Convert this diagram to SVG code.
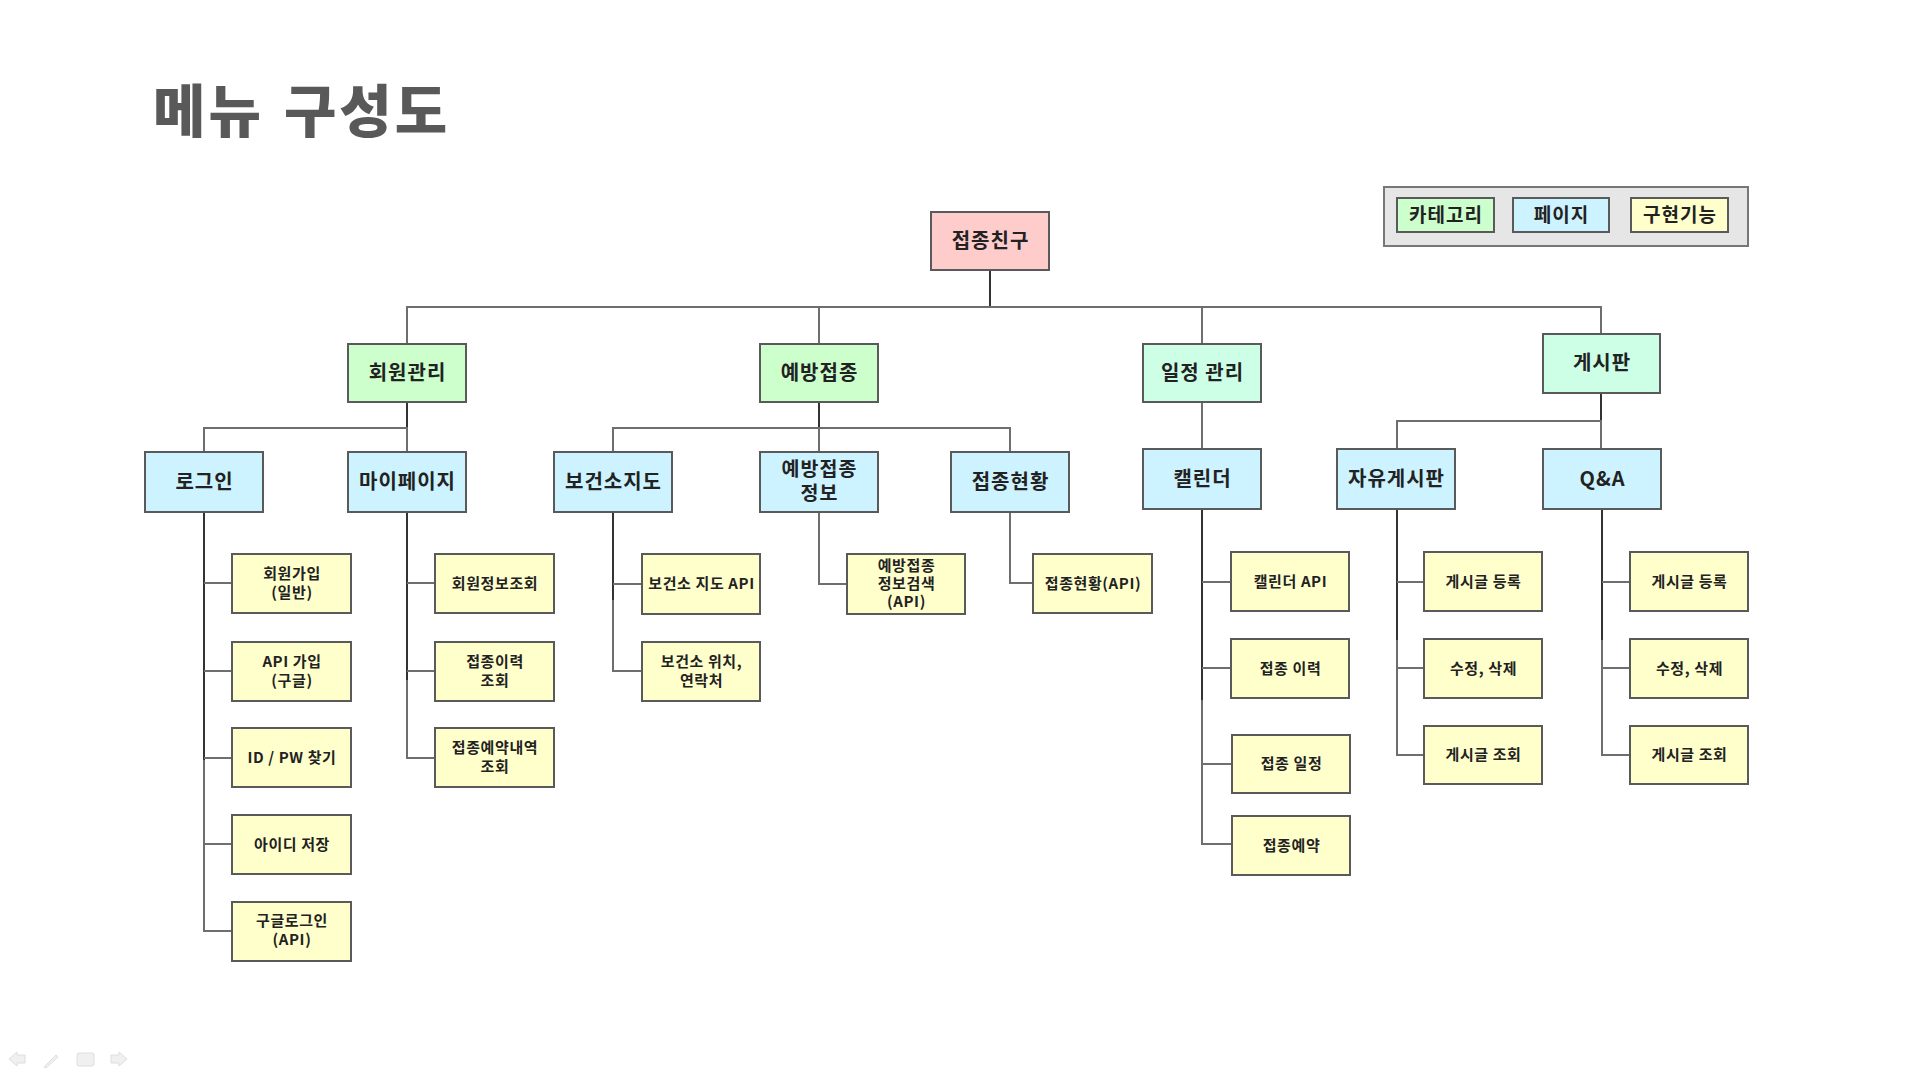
<svg xmlns="http://www.w3.org/2000/svg" width="1920" height="1080" viewBox="0 0 1920 1080">
<style>
text{font-family:"Noto Sans CJK KR","Noto Sans",sans-serif;fill:#222;text-anchor:middle;dominant-baseline:central;transform:translateY(-1.5px)}
.title{font-size:57px;font-weight:900;fill:#595959;text-anchor:start;dominant-baseline:auto;letter-spacing:3px;word-spacing:4px;transform:none}
.box{stroke:#5a5a5a;stroke-width:2}
.root{fill:#FFCCCC}
.cat{fill:#CCFFCC}
.cat2{fill:#CCFFE6}
.page{fill:#CCF3FF}
.leaf{fill:#FFFFCC}
.big{font-size:20px;font-weight:700;letter-spacing:1px}
.two{font-size:19.5px;font-weight:700;letter-spacing:1px}
.sm{font-size:15px;font-weight:700;letter-spacing:0.6px}
.lg{font-size:19px;font-weight:700;letter-spacing:1px}
.c{fill:none;stroke:#6e6e6e;stroke-width:2}
.cd{fill:none;stroke:#333;stroke-width:2}
.ui{fill:#f0f0f0;stroke:#dedede;stroke-width:1}
</style>
<rect width="1920" height="1080" fill="#fff"/>
<text class="title" x="153" y="132">메뉴 구성도</text>

<g id="legend">
<rect x="1384" y="187" width="364" height="59" fill="#E6E6E6" stroke="#777" stroke-width="2"/>
<rect class="box cat" x="1397" y="198" width="97" height="34"/><text class="lg" x="1446" y="215">카테고리</text>
<rect class="box page" x="1513" y="198" width="96" height="34"/><text class="lg" x="1561.5" y="215">페이지</text>
<rect class="box leaf" x="1631" y="198" width="97" height="34"/><text class="lg" x="1680" y="215">구현기능</text>
</g>

<g id="connectors">
<path class="cd" d="M990 270V307"/>
<path class="c" d="M407 344V307H1601V334M819 307V344M1202 307V344"/>
<path class="cd" d="M407 402V428"/>
<path class="c" d="M204 452V428H407V452"/>
<path class="cd" d="M819 402V428"/>
<path class="c" d="M613 452V428H1010V452M819 428V452"/>
<path class="c" d="M1202 402V449"/>
<path class="cd" d="M1601 393V421"/>
<path class="c" d="M1397 449V421H1601V449"/>
<path class="cd" d="M204 512V760"/>
<path class="c" d="M204 760V931H232M204 583H232M204 671H232M204 758H232M204 844H232"/>
<path class="cd" d="M407 512V680"/>
<path class="c" d="M407 680V758H435M407 583H435M407 671H435"/>
<path class="cd" d="M613 512V600"/>
<path class="c" d="M613 600V671H642M613 584H642"/>
<path class="c" d="M819 512V584H847"/>
<path class="c" d="M1010 512V583H1033"/>
<path class="cd" d="M1202 509V700"/>
<path class="c" d="M1202 700V844H1232M1202 582H1231M1202 668H1231M1202 764H1232"/>
<path class="cd" d="M1397 509V640"/>
<path class="c" d="M1397 640V755H1424M1397 582H1424M1397 668H1424"/>
<path class="cd" d="M1602 509V640"/>
<path class="c" d="M1602 640V755H1630M1602 582H1630M1602 668H1630"/>
</g>

<g id="n-root"><rect class="box root" x="931" y="212" width="118" height="58"/><text class="big" x="990.5" y="241">접종친구</text></g>

<g id="n-member"><rect class="box cat" x="348" y="344" width="118" height="58"/><text class="big" x="407.5" y="373">회원관리</text></g>
<g id="n-vacc"><rect class="box cat" x="760" y="344" width="118" height="58"/><text class="big" x="819.5" y="373">예방접종</text></g>
<g id="n-sched"><rect class="box cat2" x="1143" y="344" width="118" height="58"/><text class="big" x="1202.5" y="373">일정 관리</text></g>
<g id="n-board"><rect class="box cat2" x="1543" y="334" width="117" height="59"/><text class="big" x="1602" y="363">게시판</text></g>

<g id="n-login"><rect class="box page" x="145" y="452" width="118" height="60"/><text class="big" x="204.5" y="482">로그인</text></g>
<g id="n-mypage"><rect class="box page" x="348" y="452" width="118" height="60"/><text class="big" x="407.5" y="482">마이페이지</text></g>
<g id="n-map"><rect class="box page" x="554" y="452" width="118" height="60"/><text class="big" x="613.5" y="482">보건소지도</text></g>
<g id="n-vinfo"><rect class="box page" x="760" y="452" width="118" height="60"/><text class="two" x="819.5" y="469">예방접종</text><text class="two" x="819.5" y="493">정보</text></g>
<g id="n-status"><rect class="box page" x="951" y="452" width="118" height="60"/><text class="big" x="1010.5" y="482">접종현황</text></g>
<g id="n-cal"><rect class="box page" x="1143" y="449" width="118" height="60"/><text class="big" x="1202.5" y="479">캘린더</text></g>
<g id="n-free"><rect class="box page" x="1337" y="449" width="118" height="60"/><text class="big" x="1396.5" y="479">자유게시판</text></g>
<g id="n-qna"><rect class="box page" x="1543" y="449" width="118" height="60"/><text class="big" x="1602.5" y="479">Q&amp;A</text></g>

<g id="l-join"><rect class="box leaf" x="232" y="554" width="119" height="59"/><text class="sm" x="292" y="574">회원가입</text><text class="sm" x="292" y="593">(일반)</text></g>
<g id="l-apijoin"><rect class="box leaf" x="232" y="642" width="119" height="59"/><text class="sm" x="292" y="662">API 가입</text><text class="sm" x="292" y="681">(구글)</text></g>
<g id="l-find"><rect class="box leaf" x="232" y="728" width="119" height="59"/><text class="sm" x="292" y="757.5">ID / PW 찾기</text></g>
<g id="l-save"><rect class="box leaf" x="232" y="815" width="119" height="59"/><text class="sm" x="292" y="844.5">아이디 저장</text></g>
<g id="l-google"><rect class="box leaf" x="232" y="902" width="119" height="59"/><text class="sm" x="292" y="921">구글로그인</text><text class="sm" x="292" y="940">(API)</text></g>

<g id="l-minfo"><rect class="box leaf" x="435" y="554" width="119" height="59"/><text class="sm" x="495" y="583.5">회원정보조회</text></g>
<g id="l-hist"><rect class="box leaf" x="435" y="642" width="119" height="59"/><text class="sm" x="495" y="662">접종이력</text><text class="sm" x="495" y="681">조회</text></g>
<g id="l-resv"><rect class="box leaf" x="435" y="728" width="119" height="59"/><text class="sm" x="495" y="748">접종예약내역</text><text class="sm" x="495" y="767">조회</text></g>

<g id="l-mapapi"><rect class="box leaf" x="642" y="554" width="118" height="60"/><text class="sm" x="701.5" y="584">보건소 지도 API</text></g>
<g id="l-loc"><rect class="box leaf" x="642" y="642" width="118" height="59"/><text class="sm" x="701.5" y="662">보건소 위치,</text><text class="sm" x="701.5" y="681">연락처</text></g>

<g id="l-vsearch"><rect class="box leaf" x="847" y="554" width="118" height="60"/><text class="sm" x="906.5" y="566">예방접종</text><text class="sm" x="906.5" y="584">정보검색</text><text class="sm" x="906.5" y="602">(API)</text></g>

<g id="l-statusapi"><rect class="box leaf" x="1033" y="554" width="119" height="59"/><text class="sm" x="1093" y="583.5">접종현황(API)</text></g>

<g id="l-calapi"><rect class="box leaf" x="1231" y="552" width="118" height="59"/><text class="sm" x="1290.5" y="581.5">캘린더 API</text></g>
<g id="l-vhist"><rect class="box leaf" x="1231" y="639" width="118" height="59"/><text class="sm" x="1290.5" y="668.5">접종 이력</text></g>
<g id="l-vsched"><rect class="box leaf" x="1232" y="735" width="118" height="58"/><text class="sm" x="1291.5" y="764">접종 일정</text></g>
<g id="l-vresv"><rect class="box leaf" x="1232" y="816" width="118" height="59"/><text class="sm" x="1291.5" y="845.5">접종예약</text></g>

<g id="l-fpost"><rect class="box leaf" x="1424" y="552" width="118" height="59"/><text class="sm" x="1483.5" y="581.5">게시글 등록</text></g>
<g id="l-fedit"><rect class="box leaf" x="1424" y="639" width="118" height="59"/><text class="sm" x="1483.5" y="668.5">수정, 삭제</text></g>
<g id="l-fview"><rect class="box leaf" x="1424" y="726" width="118" height="58"/><text class="sm" x="1483.5" y="755">게시글 조회</text></g>

<g id="l-qpost"><rect class="box leaf" x="1630" y="552" width="118" height="59"/><text class="sm" x="1689.5" y="581.5">게시글 등록</text></g>
<g id="l-qedit"><rect class="box leaf" x="1630" y="639" width="118" height="59"/><text class="sm" x="1689.5" y="668.5">수정, 삭제</text></g>
<g id="l-qview"><rect class="box leaf" x="1630" y="726" width="118" height="58"/><text class="sm" x="1689.5" y="755">게시글 조회</text></g>

<g id="slide-controls">
<path class="ui" d="M9 1059L17 1052V1055H25V1063H17V1066Z"/>
<path class="ui" d="M44 1067L56 1055L58 1057L46 1068Z"/>
<rect class="ui" x="77" y="1053" width="17" height="13" rx="2"/>
<path class="ui" d="M127 1059L119 1052V1055H111V1063H119V1066Z"/>
</g>
</svg>
